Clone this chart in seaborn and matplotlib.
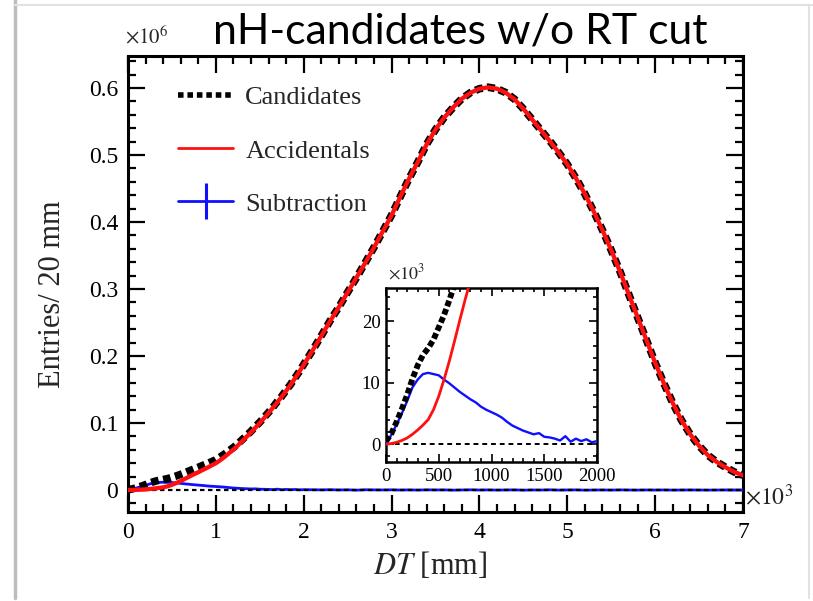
import matplotlib
matplotlib.use("Agg")
import matplotlib.pyplot as plt
import seaborn as sns
import pandas as pd
from matplotlib.lines import Line2D
from matplotlib.ticker import MultipleLocator, FuncFormatter

# ---------------- data (counts in thousands, DT in mm) ----------------
dt_mm = list(range(0, 2001, 50)) + list(range(2100, 7001, 100))

candidates_k = [0.5, 1.7, 3.6, 5.7, 8.0, 10.6, 12.8, 14.5, 15.6, 17.0, 19.0, 21.0, 23.4, 26.0,
                28.7, 31.4, 33.9, 36.7, 39.3, 42.2, 45.2, 49.3, 53.8, 58.6, 63.5, 69.1, 75.2,
                81.4, 87.6, 94.8, 101.2, 108.6, 115.9, 123.6, 132.3, 139.9, 148.9, 157.5, 167.3,
                176.8, 187.5,
                208.4, 230.2, 252.5, 273.1, 295.3, 316.8, 339.4, 362.2, 386.1, 410.3, 438.0,
                465.2, 489.9, 516.3, 538.1, 556.2, 570.8, 584.1, 593.3, 599.0, 601.2, 598.9,
                593.1, 583.2, 568.8, 553.1, 537.0, 521.3, 504.1, 486.2, 465.1, 441.9, 416.0,
                388.1, 357.9, 326.2, 292.0, 257.9, 224.1, 190.0, 159.1, 129.9, 104.0, 83.1,
                66.0, 51.9, 42.0, 34.1, 27.0, 22.0]

accidentals_k = [0.0, 0.1, 0.3, 0.6, 1.0, 1.6, 2.3, 3.1, 4.0, 5.6, 7.8, 10.5, 13.5, 16.8, 20.2,
                 23.5, 26.6, 29.9, 33.2, 36.6, 40.0, 44.5, 49.5, 55.0, 60.5, 66.5, 73.0, 79.5,
                 86.0, 93.0, 100.0, 107.5, 115.0, 123.0, 131.0, 139.5, 148.0, 157.0, 166.5,
                 176.5, 187.0,
                 208, 230, 252, 273, 295, 317, 339, 362, 386, 410, 438, 465, 490, 516, 538,
                 556, 571, 584, 593, 599, 601, 599, 593, 583, 569, 553, 537, 521, 504, 486,
                 465, 442, 416, 388, 358, 326, 292, 258, 224, 190, 159, 130, 104, 83, 66, 52,
                 42, 34, 27, 22]

subtraction_k = [0.0, 1.5, 3.2, 5.0, 7.0, 9.2, 10.5, 11.4, 11.6, 11.4, 11.2, 10.5, 9.9, 9.2, 8.5,
                 7.9, 7.3, 6.8, 6.1, 5.6, 5.2, 4.8, 4.3, 3.6, 3.0, 2.6, 2.2, 1.9, 1.6, 1.8, 1.2,
                 1.1, 0.9, 0.6, 1.3, 0.4, 0.9, 0.5, 0.8, 0.3, 0.5,
                 0.4, 0.2, 0.5, 0.1, 0.3, -0.2, 0.4, 0.2, 0.1, 0.3, 0.0, 0.2, -0.1, 0.3, 0.1,
                 0.2, -0.2, 0.1, 0.3, 0.0, 0.2, -0.1, 0.1, 0.2, -0.2, 0.1, 0.0, 0.3, -0.1, 0.1,
                 0.2, -0.2, 0.0, 0.1, -0.1, 0.2, 0.0, -0.1, 0.1, 0.0, 0.1, -0.1, 0.0, 0.1, 0.0,
                 -0.1, 0.0, 0.1, 0.0, 0.0]

series_labels = ["Candidates", "Accidentals", "Subtraction"]
main_xticklabels = ["0", "1", "2", "3", "4", "5", "6", "7"]
inset_xticks = [0, 500, 1000, 1500, 2000]
inset_yticks = [0, 10, 20]

df = pd.DataFrame({"dt": dt_mm, "cand": candidates_k, "acc": accidentals_k, "sub": subtraction_k})

# ---------------- style ----------------
sns.set_theme(style="white")
plt.rcParams["font.family"] = ["Liberation Serif", "DejaVu Serif"]
plt.rcParams["mathtext.fontset"] = "stix"

W, H = 813, 601
fig = plt.figure(figsize=(W / 100, H / 100), dpi=100)

def fx(px):
    return px / W

def fy(py):
    return 1 - py / H

# main axes: x 128..743 px, y 56..512 px
ax = fig.add_axes([fx(128), fy(512), fx(743) - fx(128), fy(56) - fy(512)])

sns.lineplot(data=df, x="dt", y="sub", ax=ax, color="#1010ff", lw=2.0, zorder=3)
sns.lineplot(data=df, x="dt", y="cand", ax=ax, color="black", lw=5.5, zorder=4)
ax.lines[-1].set_dashes((1.0, 0.6))
sns.lineplot(data=df, x="dt", y="acc", ax=ax, color="#ff1010", lw=3.1, zorder=5)
ax.axhline(0, color="black", lw=1.6, ls=(0, (2, 1.6)), zorder=3.5)

ax.set_xlim(0, 7000)
ax.set_ylim(-32.8, 647.8)
ax.xaxis.set_major_locator(MultipleLocator(1000))
ax.xaxis.set_minor_locator(MultipleLocator(200))
ax.yaxis.set_major_locator(MultipleLocator(100))
ax.yaxis.set_minor_locator(MultipleLocator(20))
ax.xaxis.set_major_formatter(FuncFormatter(lambda v, p: main_xticklabels[int(round(v / 1000))]
                                           if 0 <= round(v / 1000) < len(main_xticklabels) else ""))
ax.yaxis.set_major_formatter(FuncFormatter(lambda v, p: "0" if abs(v) < 1e-9 else f"{v/1000:.1f}"))
ax.tick_params(which="both", direction="in", top=True, right=True, bottom=True, left=True,
               width=1.6, colors="black", labelsize=17)
ax.tick_params(which="major", length=12.5)
ax.tick_params(which="minor", length=6)
ax.tick_params(axis="x", pad=7)
ax.tick_params(axis="y", pad=7)
for s in ax.spines.values():
    s.set_linewidth(2.2)
    s.set_color("black")

ax.set_xlabel("$DT$ [mm]", fontsize=22)
ax.xaxis.label.set_va("center")
ax.xaxis.set_label_coords((430 - 128) / 615, (512 - 565) / 456)
ax.set_ylabel("Entries/ 20 mm", fontsize=22)
ax.yaxis.label.set_va("center")
ax.yaxis.set_label_coords((52 - 128) / 615, (512 - 294) / 456)

fig.text(fx(125), fy(37), r"$\times10^{6}$", ha="left", va="center", fontsize=15)
fig.text(fx(745), fy(497), r"$\times10^{3}$", ha="left", va="center", fontsize=17)

# legend
handles = [
    Line2D([], [], color="black", lw=4, dashes=(1.0, 0.7)),
    Line2D([], [], color="#ff1010", lw=2.0),
    Line2D([], [], color="#1010ff", lw=2.0, marker="|", markersize=26, markeredgewidth=2.2),
]
ax.legend(handles, series_labels, loc="upper left", bbox_to_anchor=((178 - 128) / 615, (512 - 86) / 456),
          frameon=False, fontsize=19, handlelength=2.1, handletextpad=0.45, labelspacing=1.12,
          borderpad=0, borderaxespad=0)

# inset axes: x 386..597 px, y 288..462 px
ins = fig.add_axes([fx(386), fy(462), fx(597) - fx(386), fy(288) - fy(462)])
ins.set_facecolor("white")
sns.lineplot(data=df, x="dt", y="sub", ax=ins, color="#1010ff", lw=1.7, zorder=3)
sns.lineplot(data=df, x="dt", y="cand", ax=ins, color="black", lw=4.2, zorder=4)
ins.lines[-1].set_dashes((1.0, 0.5))
sns.lineplot(data=df, x="dt", y="acc", ax=ins, color="#ff1010", lw=2.0, zorder=5)
ins.axhline(0, color="black", lw=1.4, ls=(0, (2.5, 2)), zorder=3.5)
ins.set_xlim(0, 2000)
ins.set_ylim(-2.9, 25.4)
ins.set_xticks(inset_xticks)
ins.set_yticks(inset_yticks)
ins.xaxis.set_minor_locator(MultipleLocator(100))
ins.yaxis.set_minor_locator(MultipleLocator(2))
ins.tick_params(which="both", direction="in", top=True, right=True, bottom=True, left=True,
                width=1.2, colors="black", labelsize=13.5)
ins.tick_params(which="major", length=6)
ins.tick_params(which="minor", length=3)
ins.tick_params(axis="both", pad=4)
ins.set_xlabel("")
ins.set_ylabel("")
for s in ins.spines.values():
    s.set_linewidth(1.8)
    s.set_color("black")
fig.text(fx(388), fy(273), r"$\times10^{3}$", ha="left", va="center", fontsize=13)

# title
t = fig.text(fx(460.5), fy(32), "nH-candidates w/o RT cut", ha="center", va="center",
             fontsize=30, family=["Lato", "DejaVu Sans"], color="black")
fig.canvas.draw()
w = t.get_window_extent().width
t.set_fontsize(30 * 495 / w)

# slide frame decoration
fig.add_artist(Line2D([fx(15), fx(15)], [fy(598), fy(0)], transform=fig.transFigure,
                      color="#bdbdbd", lw=2.5))
fig.add_artist(Line2D([fx(15), fx(813)], [fy(5), fy(5)], transform=fig.transFigure,
                      color="#e2e2e2", lw=1.5))
fig.add_artist(Line2D([fx(809), fx(809)], [fy(5), fy(598)], transform=fig.transFigure,
                      color="#e2e2e2", lw=1.5))

fig.savefig("out.png", dpi=100)
